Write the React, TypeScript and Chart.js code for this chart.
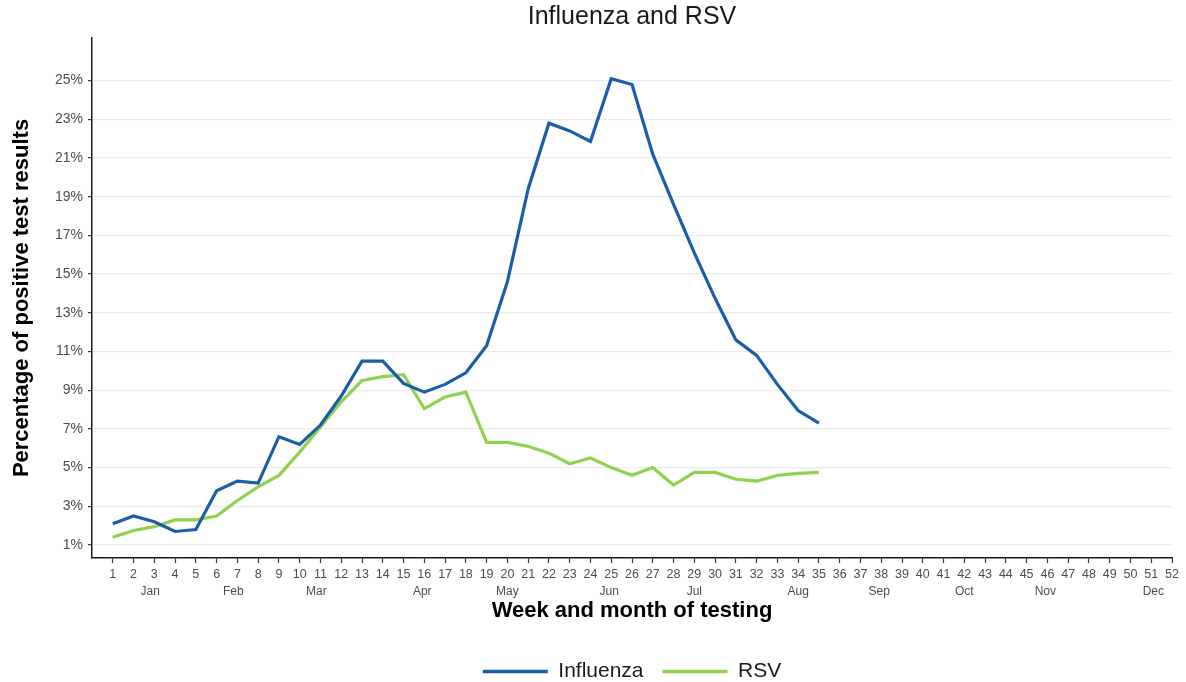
import React, { useEffect, useRef } from "react";
import { Chart, registerables } from "chart.js";

Chart.register(...registerables);
Chart.defaults.font.family = "'Liberation Sans', Arial, sans-serif";

const weeks = [1, 2, 3, 4, 5, 6, 7, 8, 9, 10, 11, 12, 13, 14, 15, 16, 17, 18, 19, 20, 21, 22, 23, 24, 25, 26, 27, 28, 29, 30, 31, 32, 33, 34, 35];
const influenza = [2.1, 2.5, 2.2, 1.7, 1.8, 3.8, 4.3, 4.2, 6.6, 6.2, 7.2, 8.7, 10.5, 10.5, 9.35, 8.9, 9.3, 9.9, 11.3, 14.6, 19.4, 22.8, 22.4, 21.85, 25.1, 24.8, 21.2, 18.6, 16.1, 13.75, 11.6, 10.8, 9.3, 7.95, 7.3];
const rsv = [1.4, 1.75, 1.95, 2.3, 2.3, 2.5, 3.3, 4.0, 4.6, 5.8, 7.1, 8.4, 9.5, 9.7, 9.8, 8.05, 8.65, 8.9, 6.3, 6.3, 6.1, 5.75, 5.2, 5.5, 5.0, 4.6, 5.0, 4.1, 4.75, 4.75, 4.4, 4.3, 4.6, 4.7, 4.75];
const weekTicks = [1, 2, 3, 4, 5, 6, 7, 8, 9, 10, 11, 12, 13, 14, 15, 16, 17, 18, 19, 20, 21, 22, 23, 24, 25, 26, 27, 28, 29, 30, 31, 32, 33, 34, 35, 36, 37, 38, 39, 40, 41, 42, 43, 44, 45, 46, 47, 48, 49, 50, 51, 52];
const yTicks = [1, 3, 5, 7, 9, 11, 13, 15, 17, 19, 21, 23, 25];
const monthNames = ["Jan", "Feb", "Mar", "Apr", "May", "Jun", "Jul", "Aug", "Sep", "Oct", "Nov", "Dec"];
const monthPositions = [2.8, 6.8, 10.8, 15.9, 20.0, 24.9, 29.0, 34.0, 37.9, 42.0, 45.9, 51.1];

const BLUE = "#1a5ea8";
const GREEN = "#92d050";
const TICK_COLOR = "#4d4d4d";
const AXIS_COLOR = "#1a1a1a";

export default function App() {
  const ref = useRef<HTMLCanvasElement>(null);

  useEffect(() => {
    const chart = new Chart(ref.current as HTMLCanvasElement, {
      type: "line",
      data: {
        datasets: [
          {
            label: "Influenza",
            data: weeks.map((w, i) => ({ x: w, y: influenza[i] })),
            borderColor: BLUE,
            backgroundColor: BLUE,
            borderWidth: 3.2,
            pointRadius: 0,
            tension: 0,
            fill: false,
          },
          {
            label: "RSV",
            data: weeks.map((w, i) => ({ x: w, y: rsv[i] })),
            borderColor: GREEN,
            backgroundColor: GREEN,
            borderWidth: 3.2,
            pointRadius: 0,
            tension: 0,
            fill: false,
          },
        ],
      },
      options: {
        responsive: false,
        animation: false,
        layout: { padding: { left: 0, right: 14, top: 0, bottom: 0 } },
        plugins: {
          title: {
            display: true,
            text: "Influenza and RSV",
            fullSize: false,
            color: "#1a1a1a",
            font: { size: 25, weight: "normal" },
            padding: { top: 2, bottom: 6 },
          },
          legend: {
            position: "bottom",
            fullSize: false,
            labels: {
              boxWidth: 65,
              boxHeight: 3.5,
              padding: 19,
              color: "#1a1a1a",
              font: { size: 21 },
              generateLabels: (c: any) =>
                c.data.datasets.map((ds: any, i: number) => ({
                  text: ds.label,
                  fillStyle: ds.borderColor,
                  strokeStyle: ds.borderColor,
                  fontColor: "#1a1a1a",
                  lineWidth: 0,
                  hidden: false,
                  datasetIndex: i,
                })),
            },
          },
          tooltip: { enabled: false },
        },
        scales: {
          x: {
            type: "linear",
            position: "bottom",
            min: 0,
            max: 52,
            afterBuildTicks: (s: any) => {
              s.ticks = weekTicks.map((v) => ({ value: v }));
            },
            afterFit: (s: any) => {
              s.height = 24;
            },
            ticks: {
              autoSkip: false,
              maxRotation: 0,
              padding: 4,
              color: TICK_COLOR,
              font: { size: 12.5 },
              callback: (v: any) => String(v),
            },
            grid: {
              display: true,
              drawOnChartArea: false,
              drawTicks: true,
              tickLength: 5,
              tickColor: "#333333",
              tickWidth: 1.2,
            },
            border: { display: true, color: AXIS_COLOR, width: 1.5 },
          },
          x2: {
            type: "linear",
            position: "bottom",
            weight: 1,
            min: 0,
            max: 52,
            afterBuildTicks: (s: any) => {
              s.ticks = monthPositions.map((v) => ({ value: v }));
            },
            afterFit: (s: any) => {
              s.height = 60;
            },
            ticks: {
              autoSkip: false,
              maxRotation: 0,
              padding: 2,
              color: TICK_COLOR,
              font: { size: 12 },
              callback: (_v: any, i: number) => monthNames[i],
            },
            grid: { display: false, drawTicks: false },
            border: { display: false },
            title: {
              display: true,
              text: "Week and month of testing",
              color: "#000000",
              font: { size: 22, weight: "bold" },
              padding: { top: 0, bottom: 18 },
            },
          },
          y: {
            type: "linear",
            min: 0.33,
            max: 27.2,
            afterBuildTicks: (s: any) => {
              s.ticks = yTicks.map((v) => ({ value: v }));
            },
            afterFit: (s: any) => {
              s.width = 92;
            },
            ticks: {
              padding: 5,
              color: TICK_COLOR,
              font: { size: 14 },
              callback: (v: any) => v + "%",
            },
            grid: {
              color: "#ebebeb",
              lineWidth: 1.2,
              drawTicks: true,
              tickLength: 4,
              tickColor: "#333333",
            },
            border: { display: true, color: AXIS_COLOR, width: 1.5 },
            title: {
              display: true,
              text: "Percentage of positive test results",
              color: "#000000",
              font: { size: 22, weight: "bold" },
              padding: { top: 9, bottom: 0 },
            },
          },
        },
      },
    });
    return () => chart.destroy();
  }, []);

  return (
    <div style={{ position: "fixed", left: 0, top: 0, width: 1186, height: 692, background: "#ffffff" }}>
      <canvas ref={ref} width={1186} height={692} style={{ display: "block" }} />
    </div>
  );
}
